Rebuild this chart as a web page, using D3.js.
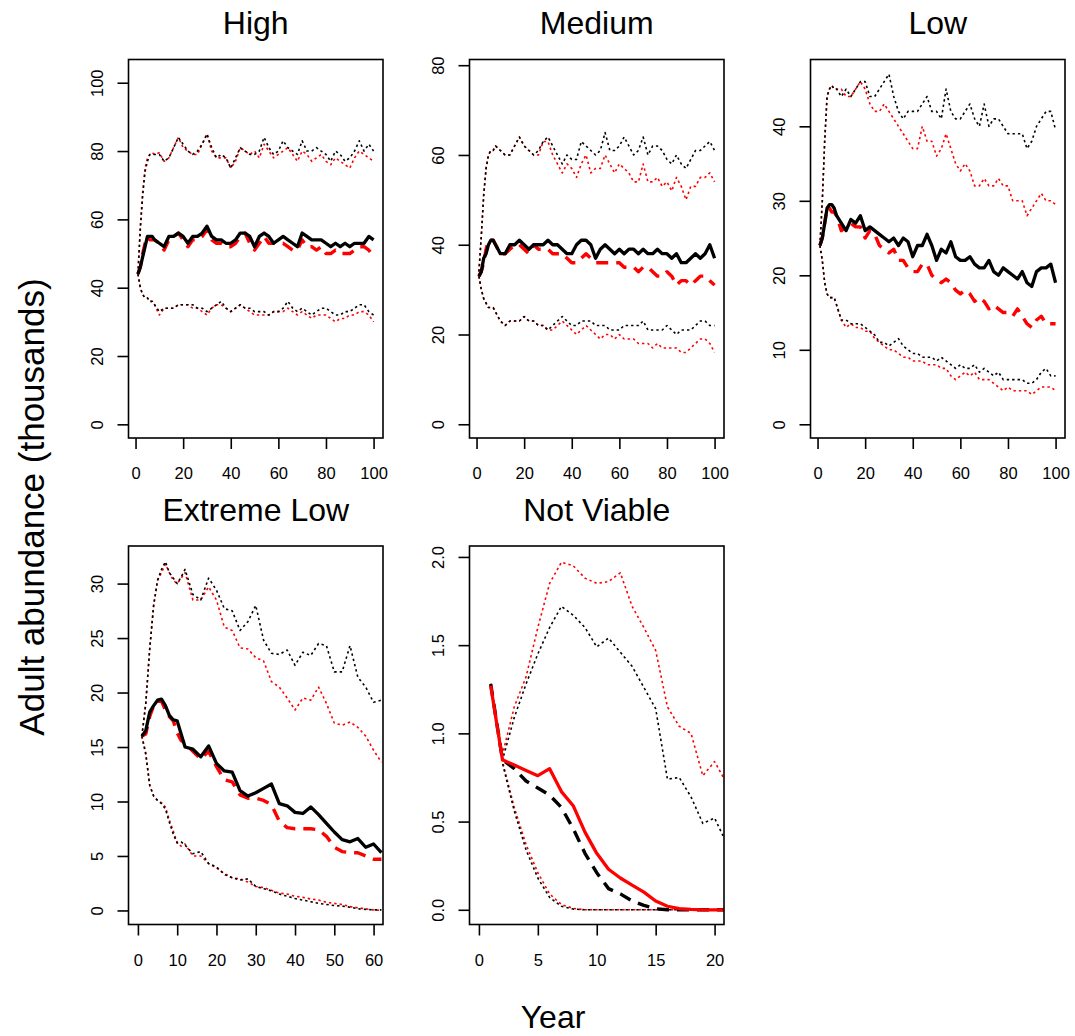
<!DOCTYPE html>
<html><head><meta charset="utf-8">
<script src="https://cdn.jsdelivr.net/npm/d3@7"></script>
<style>body{margin:0;background:#fff} text{font-family:"Liberation Sans",Arial,sans-serif;fill:#000}</style>
</head><body><svg id="c" width="1075" height="1036"></svg>
<script>
// ---------- DATA ----------
const panelTitles = ["High", "Medium", "Low", "Extreme Low", "Not Viable"];
const yearsA = [1,2,3,4,5,6,7,8,10,12,14,16,18,20,22,24,26,28,30,32,34,36,38,40,42,44,46,48,50,52,54,56,58,60,62,64,66,68,70,72,74,76,78,80,82,84,86,88,90,92,94,96,98,100];
const yearsXL = [1,2,3,4,5,6,7,8,9,10,11,12,14,16,18,20,22,24,26,28,30,32,34,36,38,40,42,44,46,48,50,52,54,56,58,60,62];
const yearsNV = [1,2,3,4,5,6,7,8,9,10,11,12,13,14,15,16,17,18,19,20,21];

// High
const hiRedHi  = [44,58,68,75,78,79,79.5,79,79.5,77,78,81,84,81,80,79,79,82,85,80,78,78,78,75,77,81,80,79,80,78,82,80,78,79,80,81,79,77,80,79,77,78,79,77,76,78,77,76,75,78,80,79,78,77];
const hiBlkHi  = [44,57,67,74,77,79,79,79,79,77,78,81,84,82,80,79,80,82,85,81,78,79,78,75,78,81,80,79,79,80,84,81,79,80,83,81,80,79,83,80,80,81,80,79,77,80,79,77,78,80,83,80,82,80];
const hiBlkMid = [44,46,49,52,55,55,55,54,53,52,55,55,56,55,53,55,55,56,58,55,54,54,53,53,54,56,56,55,52,55,56,55,53,54,55,54,53,52,56,55,54,54,54,53,52,53,52,53,52,53,53,53,55,54];
const hiRedMid = [44,46,50,53,55,54,54,54,53,51,54,55,56,54,52,54,54,55,57,54,53,53,52,52,53,55,56,53,51,53,55,53,53,53,53,52,51,51,54,52,52,51,52,50,50,51,50,50,50,51,52,52,51,49];
const hiRedLo  = [44,40,38,37,37,36,36,35,32,34,34,34,35,35,35,34,34,33,32,34,35,35,34,33,34,35,34,33,32,32,32,32,33,33,33,34,33,32,33,32,31,32,32,32,31,30,31,31,32,32,33,33,32,30];
const hiBlkLo  = [44,40,38,37,37,36,36,35,33,34,34,34,35,35,35,35,34,34,33,34,35,36,34,33,34,35,34,34,33,33,33,32,33,33,34,36,34,33,34,33,32,33,34,34,33,32,32,33,33,34,35,35,33,32];

// Medium
const medRedHi  = [34,42,51,57,60,61,61,62,61,60,60,62,64,62,61,60,60,63,63,60,58,56,58,57,55,58,60,56,57,57,60,58,56,58,57,56,54,54,58,54,54,55,53,54,52,55,53,50,53,53,55,55,56,54];
const medBlkHi  = [34,42,51,57,60,61,61,62,61,60,60,62,64,62,61,60,61,63,64,62,60,58,60,59,59,63,62,61,60,61,65,61,61,62,64,62,60,61,64,60,62,62,61,59,58,60,58,57,59,61,61,62,63,61];
const medBlkMid = [33,34,37,38,40,41,41,40,38,38,40,40,41,40,39,40,40,40,41,40,40,39,38,38,40,41,41,40,37,39,40,39,38,39,38,39,39,38,39,38,38,39,38,38,37,38,36,36,37,38,37,38,40,37];
const medRedMid = [33,34,36,39,41,41,41,40,38,38,39,40,40,39,38,40,39,39,39,38,38,38,37,36,36,37,38,37,36,36,36,36,36,36,35,35,35,34,35,35,34,33,33,34,33,31,32,32,31,32,33,33,32,31];
const medRedLo  = [33,30,28,27,26,26,26,25,23,22,23,23,23,24,23,23,22,22,21,21,22,23,22,21,20,21,22,21,20,19,20,20,19,20,19,19,19,18,18,18,17,18,17,17,17,17,16,16,17,18,19,19,18,16];
const medBlkLo  = [33,30,28,27,26,26,26,25,23,22,23,23,23,24,23,23,22,22,21,22,23,24,23,22,22,23,23,23,22,22,22,21,21,21,22,22,22,22,23,21,21,21,21,22,21,20,21,21,21,22,23,23,22,22];

// Low
const lowRedHi  = [24,30,38,44,45,45.5,45,45,45,44,44,45,46,45,43,42,42,43,42,41,40,39,38,37,37,40,38,38,36,37,39,37,35,34,35,34,32,32,33,32,32,33,32,32,30,30,30,28,29,30,31,30,30,29.5];
const lowBlkHi  = [24,30,38,44,45,45.5,45,45,44,45,44,45,46,46,44,44,45,46,47,44,42,41,42,42,42,43,44,42,42,41,45,42,41,41,42,43,41,40,43,40,41,41,40,39,39,39,39,37,38,40,41,42,42,39.5];
const lowBlkMid = [24,25,27,29,29.5,29.5,29,28,27,26,27.5,27,28,26,26.5,26,25.5,25,24.5,25,24,25,24.5,22.5,24,24,25.5,24,22,23.5,23,24.5,22.5,22,22,22.5,21.5,21,21,22,20.5,20,21,20.5,20,19.5,20.5,19,18.5,20.5,21,21,21.5,19];
const lowRedMid = [24,25,27,29,29,28.5,28.5,28,26,26.5,27,26.5,26.5,25,26,25.5,24,23.5,23,23.5,22,22,21,20.5,20.5,21.5,21.5,20,19.5,19,19.5,19,18,17.5,18,17.5,16.5,17,16.5,15.5,16,15.5,15,15,14.5,15.5,14.5,13.5,13,14,14.5,13.5,13.5,13.5];
const lowRedLo  = [24,22,19,17.5,17,17,17,16,14,13,13.5,13,13,12.5,12.5,11.5,11,10.5,10,10,9.5,9,9,8.5,8.5,8.5,8,8,8,7.5,7.5,6.5,6,6.5,7,6.5,7,6,6,6,5.5,5,4.5,5,4.5,4.5,4.5,4.5,4,4.5,5,5,5,4.5];
const lowBlkLo  = [24,22,19,17.5,17,17,17,16,14,14,13.5,13.5,13.5,13,12.5,12,11,11,10.5,11,11.5,10.5,10,9.5,9.5,9,9,9,8.5,9,8.5,8,7.5,8,7.5,7.5,8,7,7.5,7,6.5,7,6,6,6,6,6,5.5,5.5,6,7,7.5,6.5,6.5];

// Extreme Low
const xlRedHi  = [16,19,24,28,30.3,31,31.8,31,30.3,30,30.5,31,28.5,28.5,29.7,28.5,26,25.7,24.1,24,23.2,22.9,21,20.5,19.5,18.4,19.5,19.3,20.5,19,17.2,17,17.3,16.8,16,14.7,13.6];
const xlBlkHi  = [16,19,24,28,30.3,31.3,32,31,30.5,30,30.6,31.3,29,28.5,30.5,29.4,27.7,27.5,25.7,26.5,28,24.8,23.6,23.5,23.9,22.5,23.7,23.4,24.5,24.3,21.9,21.9,24.3,21.4,20.5,19.1,19.3];
const xlBlkMid = [16,16.5,18.2,18.8,19.3,19.4,18.8,17.9,17.5,17.4,16.2,15,14.8,14.1,15.1,13.5,12.8,12.7,11,10.5,10.8,11.2,11.6,9.8,9.6,9,8.9,9.5,8.8,8,7.2,6.5,6.3,6.6,5.8,6.1,5.3];
const xlRedMid = [16,16.2,17.8,18.8,19.2,19.2,18.4,17.8,17.4,16.3,15.6,15.4,14.6,13.9,14.6,13.2,12,11.8,10.6,10.3,10.3,10.1,9.7,8.2,7.6,7.5,7.5,7.5,7.4,6.8,5.8,5.4,5.3,5.3,5,4.7,4.7];
const xlRedLo  = [16,14.5,11.5,10.5,10.1,9.9,9.5,8.3,7.3,6.2,5.9,6.1,5,5,4.3,3.9,3.4,3,2.9,2.6,2.2,2.1,1.85,1.6,1.5,1.3,1.2,1.05,0.95,0.75,0.65,0.55,0.35,0.25,0.15,0.05,0];
const xlBlkLo  = [16,14.3,11.5,10.5,10.1,9.8,9.3,8.1,7,6.2,6.3,6,5.2,5.4,4.3,4,3.3,3,2.8,2.9,2.2,2,1.8,1.5,1.3,1.1,0.95,0.8,0.65,0.55,0.45,0.4,0.3,0.15,0.1,0.05,0.05];

// Not Viable
const nvRedHi  = [1.28,0.88,1.15,1.32,1.6,1.85,1.97,1.95,1.88,1.85,1.86,1.91,1.72,1.6,1.47,1.15,1.04,1,0.76,0.84,0.72];
const nvBlkHi  = [1.28,0.85,1.09,1.28,1.45,1.6,1.72,1.67,1.6,1.49,1.54,1.46,1.38,1.26,1.14,0.74,0.75,0.64,0.49,0.52,0.38];
const nvRedMid = [1.27,0.85,0.82,0.79,0.76,0.8,0.67,0.59,0.44,0.32,0.23,0.18,0.14,0.1,0.05,0.02,0.006,0.002,0,0,0];
const nvBlkMid = [1.28,0.85,0.8,0.73,0.69,0.65,0.58,0.46,0.32,0.21,0.12,0.09,0.05,0.025,0.006,0,0,0,0,0,0];
const nvRedLo  = [1.28,0.84,0.58,0.37,0.21,0.09,0.03,0.008,0,0,0,0,0,0,0,0,0,0,0,0,0];
const nvBlkLo  = [1.28,0.83,0.56,0.34,0.18,0.07,0.02,0.004,0,0,0,0,0,0,0,0,0,0,0,0,0];

// Tick labels
const xTicks100 = [0,20,40,60,80,100];
const xTicks60 = [0,10,20,30,40,50,60];
const xTicks20 = [0,5,10,15,20];
const yTicksHigh = [0,20,40,60,80,100];
const yTicksMed = [0,20,40,60,80];
const yTicksLow = [0,10,20,30,40];
const yTicksXL = [0,5,10,15,20,25,30];
const yTicksNV = [0,0.5,1.0,1.5,2.0];
const yTickLabelsNV = ["0.0","0.5","1.0","1.5","2.0"];

// ---------- LAYOUT / STYLE ----------
const colLeft = [128.5, 469.5, 810.5];
const rowTop = [59.5, 546];
const boxW = 254.5, boxH = 378.5;

const panels = [
  {title: panelTitles[0], col:0, row:0, years: yearsA, xd:[-2.96,103.96], yd:[-4.0,106.8], xt:xTicks100, yt:yTicksHigh,
   series:[["red","dot",hiRedHi],["red","dot",hiRedLo],["black","dot",hiBlkHi],["black","dot",hiBlkLo],["red","dash",hiRedMid],["black","solid",hiBlkMid]]},
  {title: panelTitles[1], col:1, row:0, years: yearsA, xd:[-2.96,103.96], yd:[-3.06,81.27], xt:xTicks100, yt:yTicksMed,
   series:[["red","dot",medRedHi],["red","dot",medRedLo],["black","dot",medBlkHi],["black","dot",medBlkLo],["red","dash",medRedMid],["black","solid",medBlkMid]]},
  {title: panelTitles[2], col:2, row:0, years: yearsA, xd:[-2.96,103.96], yd:[-1.84,48.97], xt:xTicks100, yt:yTicksLow,
   series:[["red","dot",lowRedHi],["red","dot",lowRedLo],["black","dot",lowBlkHi],["black","dot",lowBlkLo],["red","dash",lowRedMid],["black","solid",lowBlkMid]]},
  {title: panelTitles[3], col:0, row:1, years: yearsXL, xd:[-2.4,62.4], yd:[-1.29,33.45], xt:xTicks60, yt:yTicksXL,
   series:[["red","dot",xlRedHi],["red","dot",xlRedLo],["black","dot",xlBlkHi],["black","dot",xlBlkLo],["red","dash",xlRedMid],["black","solid",xlBlkMid]]},
  {title: panelTitles[4], col:1, row:1, years: yearsNV, xd:[-0.8,20.8], yd:[-0.0834,2.062], xt:xTicks20, yt:yTicksNV, ytl:yTickLabelsNV,
   series:[["red","dot",nvRedHi],["red","dot",nvRedLo],["black","dot",nvBlkHi],["black","dot",nvBlkLo],["black","dash",nvBlkMid],["red","solid",nvRedMid]]}
];

const svg = d3.select("#c");
const colors = {red:"#ff0000", black:"#000000"};
const styles = {
  dot:  {w:1.6, dash:"2.4,3"},
  dash: {w:3.4, dash:"12,8"},
  solid:{w:3.3, dash:null}
};
const FONT = '"Liberation Sans",Arial,sans-serif';

panels.forEach((p, i) => {
  const x0 = colLeft[p.col], y0 = rowTop[p.row];
  const g = svg.append("g").attr("transform", `translate(${x0},${y0})`);
  const x = d3.scaleLinear().domain(p.xd).range([0, boxW]);
  const y = d3.scaleLinear().domain(p.yd).range([boxH, 0]);

  const cid = "clip" + i;
  g.append("clipPath").attr("id", cid).append("rect").attr("width", boxW).attr("height", boxH);
  const lines = g.append("g").attr("clip-path", `url(#${cid})`);
  p.series.forEach(([col, kind, vals]) => {
    const st = styles[kind];
    const line = d3.line().x((d, k) => x(p.years[k])).y(d => y(d));
    lines.append("path").datum(vals)
      .attr("d", line)
      .attr("fill", "none")
      .attr("stroke", colors[col])
      .attr("stroke-width", st.w)
      .attr("stroke-linejoin", "round")
      .attr("stroke-linecap", "butt")
      .attr("stroke-dasharray", st.dash);
  });

  // box
  g.append("rect").attr("width", boxW).attr("height", boxH)
    .attr("fill", "none").attr("stroke", "#000").attr("stroke-width", 1.6);

  // x axis
  const xa = g.append("g").attr("transform", `translate(0,${boxH})`)
    .call(d3.axisBottom(x).tickValues(p.xt).tickSize(11).tickFormat(d3.format("d")));
  xa.select(".domain").remove();
  xa.selectAll("line").attr("stroke", "#000").attr("stroke-width", 1.6);
  xa.selectAll("text").attr("y", 41).attr("dy", null)
    .style("font-size", "16.5px").style("font-family", FONT).attr("fill", "#000");

  // y axis
  const ya = g.append("g")
    .call(d3.axisLeft(y).tickValues(p.yt).tickSize(11)
      .tickFormat((d, k) => p.ytl ? p.ytl[k] : d3.format("d")(d)));
  ya.select(".domain").remove();
  ya.selectAll("line").attr("stroke", "#000").attr("stroke-width", 1.6);
  ya.selectAll("text")
    .attr("x", null).attr("dy", null)
    .attr("transform", "translate(-25.5,0) rotate(-90)")
    .attr("text-anchor", "middle")
    .style("font-size", "16.5px").style("font-family", FONT).attr("fill", "#000");

  // title
  g.append("text").attr("x", boxW / 2).attr("y", -25.5)
    .attr("text-anchor", "middle").style("font-size", "32px").text(p.title);
});

// outer labels
svg.append("text").attr("transform", "translate(44,507) rotate(-90)")
  .attr("text-anchor", "middle").style("font-size", "35px").text("Adult abundance (thousands)");
svg.append("text").attr("x", 553).attr("y", 1028)
  .attr("text-anchor", "middle").style("font-size", "32px").text("Year");
</script></body></html>
